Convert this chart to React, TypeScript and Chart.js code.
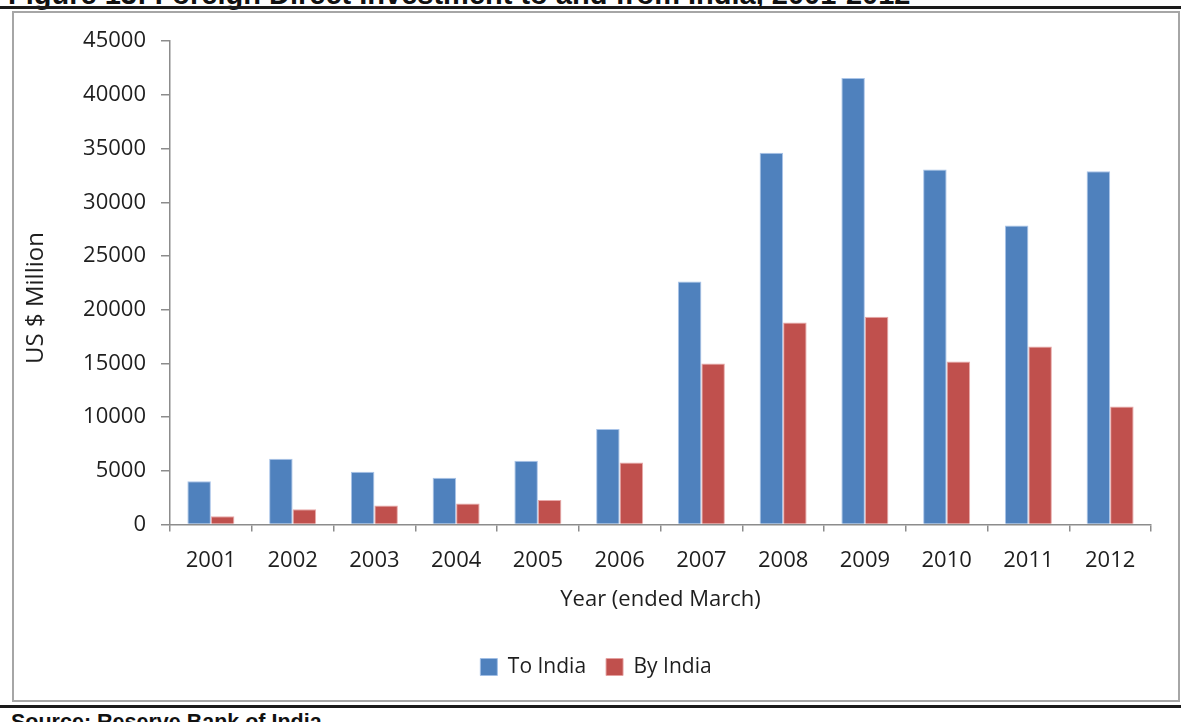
import React, { useEffect, useRef } from "react";
import { Chart, registerables } from "chart.js";

Chart.register(...registerables);

const categories = ["2001", "2002", "2003", "2004", "2005", "2006", "2007", "2008", "2009", "2010", "2011", "2012"];
const toIndia = [4030, 6120, 4920, 4360, 5940, 8890, 22630, 34620, 41580, 33050, 27840, 32890];
const byIndia = [760, 1430, 1780, 1960, 2290, 5780, 14990, 18810, 19340, 15180, 16570, 10980];
const seriesNames = ["To India", "By India"];
const yMin = 0;
const yMax = 45000;
const yStep = 5000;
const titleText = "Figure 13: Foreign Direct Investment to and from India, 2001-2012";
const sourceText = "Source: Reserve Bank of India";
const xTitle = "Year (ended March)";
const yTitle = "US $ Million";

const FONT = "'Open Sans', sans-serif";
const AXIS_COLOR = "#8c8c8c";
const TEXT_COLOR = "#1e1e1e";

const yTitlePlugin = {
  id: "yTitlePlugin",
  afterDraw(chart: any) {
    const ctx = chart.ctx;
    ctx.save();
    ctx.translate(22, 285);
    ctx.rotate(-Math.PI / 2);
    ctx.textAlign = "center";
    ctx.textBaseline = "middle";
    ctx.fillStyle = TEXT_COLOR;
    ctx.font = "24px 'Open Sans', sans-serif";
    ctx.fillText(yTitle, 0, 0);
    ctx.restore();
  },
};

export default function App() {
  const canvasRef = useRef<HTMLCanvasElement | null>(null);

  useEffect(() => {
    const canvas = canvasRef.current;
    if (!canvas) return;
    const chart = new Chart(canvas, {
      type: "bar",
      data: {
        labels: categories,
        datasets: [
          {
            label: seriesNames[0],
            data: toIndia,
            backgroundColor: "#4F81BD",
            borderColor: "rgba(160,190,230,0.9)",
            borderWidth: 1,
            categoryPercentage: 0.575,
            barPercentage: 1,
          },
          {
            label: seriesNames[1],
            data: byIndia,
            backgroundColor: "#C0504D",
            borderColor: "rgba(230,160,160,0.9)",
            borderWidth: 1,
            categoryPercentage: 0.575,
            barPercentage: 1,
          },
        ],
      },
      options: {
        responsive: false,
        animation: false,
        devicePixelRatio: 1,
        layout: { padding: { left: 27, right: 27, top: 24.7, bottom: 12.5 } },
        plugins: {
          tooltip: { enabled: false },
          legend: {
            position: "bottom",
            labels: {
              boxWidth: 17,
              boxHeight: 17,
              padding: 20,
              color: TEXT_COLOR,
              font: { family: FONT, size: 21 },
            },
          },
        },
        scales: {
          x: {
            offset: true,
            grid: {
              display: true,
              drawOnChartArea: false,
              drawTicks: true,
              tickLength: 7,
              color: AXIS_COLOR,
              lineWidth: 1.5,
              offset: true,
            },
            border: { display: true, color: AXIS_COLOR, width: 1.5 },
            ticks: {
              color: TEXT_COLOR,
              font: { family: FONT, size: 22 },
              padding: 16,
              maxRotation: 0,
            },
            title: {
              display: true,
              text: xTitle,
              color: TEXT_COLOR,
              font: { family: FONT, size: 22 },
              padding: { top: 0, bottom: 23.3 },
            },
            afterFit: (s: any) => {
              s.height = 112;
            },
          },
          y: {
            min: yMin,
            max: yMax,
            grid: {
              display: true,
              drawOnChartArea: false,
              drawTicks: true,
              tickLength: 9,
              color: AXIS_COLOR,
              lineWidth: 1.5,
            },
            border: { display: true, color: AXIS_COLOR, width: 1.5 },
            ticks: {
              stepSize: yStep,
              color: TEXT_COLOR,
              font: { family: FONT, size: 22 },
              padding: 15,
              callback: (v: any) => String(v),
            },
            title: { display: false },
            afterFit: (s: any) => {
              s.width = 129;
            },
          },
        },
      },
      plugins: [yTitlePlugin],
    });
    return () => chart.destroy();
  }, []);

  return (
    <div
      style={{
        position: "absolute",
        left: 0,
        top: 0,
        width: 1181,
        height: 722,
        overflow: "hidden",
        background: "#ffffff",
      }}
    >
      <div
        style={{
          position: "absolute",
          left: 8,
          top: -20.5,
          fontFamily: "'Liberation Sans', Arial, sans-serif",
          fontWeight: "bold",
          fontSize: 29,
          lineHeight: "29px",
          whiteSpace: "nowrap",
          color: "#111",
        }}
      >
        {titleText}
      </div>
      <div style={{ position: "absolute", left: 0, top: 6, width: 1181, height: 3, background: "#1a1a1a" }} />
      <div
        style={{
          position: "absolute",
          left: 12,
          top: 11,
          width: 1168,
          height: 691,
          border: "2px solid #a6a6a6",
          boxSizing: "border-box",
          background: "#fff",
        }}
      />
      <canvas
        ref={canvasRef}
        width={1164}
        height={687}
        style={{ position: "absolute", left: 14, top: 13, width: 1164, height: 687 }}
      />
      <div style={{ position: "absolute", left: 0, top: 705, width: 1181, height: 2.5, background: "#1a1a1a" }} />
      <div
        style={{
          position: "absolute",
          left: 11,
          top: 712.2,
          fontFamily: "'Liberation Sans', Arial, sans-serif",
          fontWeight: "bold",
          fontSize: 21.5,
          lineHeight: "21.5px",
          whiteSpace: "nowrap",
          color: "#111",
        }}
      >
        {sourceText}
      </div>
    </div>
  );
}
